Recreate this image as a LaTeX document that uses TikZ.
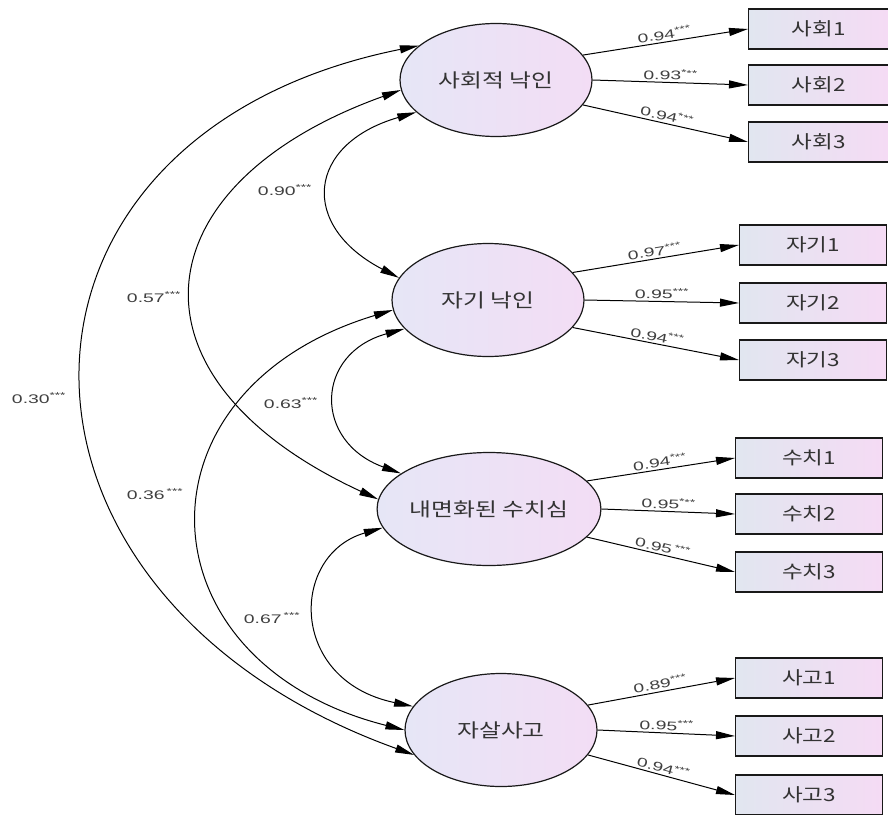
\documentclass[tikz,border=0pt]{standalone}
\usepackage{fontspec}
\setmainfont{Liberation Sans}
\newfontfamily\krfont[FakeStretch=1.25]{Noto Sans CJK KR}
\newfontfamily\numfont[FakeStretch=1.55]{Liberation Sans}
\usetikzlibrary{shapes.geometric,arrows.meta}
\definecolor{latL}{HTML}{E6E6F6}
\definecolor{latR}{HTML}{F3DDF5}
\definecolor{obsL}{HTML}{E1E6F0}
\definecolor{obsR}{HTML}{F5DBF4}
\newcommand{\stars}{\textsuperscript{***}}

\begin{document}
\begin{tikzpicture}[x=1pt,y=-1pt]
\tikzstyle{latent}=[ellipse,draw=black!90,line width=1.2pt,left color=latL,right color=latR,minimum width=192pt,minimum height=113pt,inner sep=0pt,text=black!80,font=\krfont\fontsize{19}{22}\selectfont]
\tikzstyle{obs}=[rectangle,draw=black!90,line width=1.2pt,left color=obsL,right color=obsR,minimum width=147pt,minimum height=40pt,inner sep=0pt,anchor=west,text=black!80,font=\krfont\fontsize{18}{22}\selectfont]
\tikzstyle{load}=[-{Triangle[length=19pt,width=8pt]},line width=1pt,black]
\tikzstyle{cov}=[{Triangle[length=19pt,width=8pt]}-{Triangle[length=19pt,width=8pt]},line width=1pt,black]
\tikzstyle{lab}=[midway,above,sloped,inner sep=2pt,text=black!75,font=\numfont\fontsize{12.5}{13}\selectfont]
\tikzstyle{clab}=[inner sep=0pt,text=black!75,font=\numfont\fontsize{12.5}{13}\selectfont]
\useasboundingbox (0,0) rectangle (888,814);
% latent factors
\node[latent] (sn) at (496,80) {사회적 낙인};
\node[latent] (jn) at (488,300) {자기 낙인};
\node[latent] (ns) at (489,509) {내면화된 수치심};
\node[latent] (ss) at (501,730) {자살사고};
% indicators
\node[obs,minimum width=140pt] (s1) at (748,29) {사회1};
\node[obs,minimum width=140pt] (s2) at (748,85) {사회2};
\node[obs,minimum width=140pt] (s3) at (748,142) {사회3};
\node[obs] (j1) at (739,245) {자기1};
\node[obs] (j2) at (739,303) {자기2};
\node[obs] (j3) at (739,360) {자기3};
\node[obs] (n1) at (735,458) {수치1};
\node[obs] (n2) at (735,514) {수치2};
\node[obs] (n3) at (735,572) {수치3};
\node[obs] (g1) at (735,678) {사고1};
\node[obs] (g2) at (735,736) {사고2};
\node[obs] (g3) at (735,795) {사고3};
% loadings
\draw[load] (sn.16) -- (s1.west) node[lab] {0.94\stars};
\draw[load] (sn.0) -- (s2.west) node[lab] {0.93\stars};
\draw[load] (sn.-16) -- (s3.west) node[lab] {0.94\stars};
\draw[load] (jn.18) -- (j1.west) node[lab] {0.97\stars};
\draw[load] (jn.0) -- (j2.west) node[lab] {0.95\stars};
\draw[load] (jn.-18) -- (j3.west) node[lab] {0.94\stars};
\draw[load] (ns.16) -- (n1.west) node[lab] {0.94\stars};
\draw[load] (ns.0) -- (n2.west) node[lab] {0.95\stars};
\draw[load] (ns.-16) -- (n3.west) node[lab] {0.95\,\stars};
\draw[load] (ss.16) -- (g1.west) node[lab] {0.89\stars};
\draw[load] (ss.0) -- (g2.west) node[lab] {0.95\stars};
\draw[load] (ss.-16) -- (g3.west) node[lab] {0.94\stars};
% correlations
\draw[cov] (sn.202) .. controls +(-110,32) and +(-100,-52) .. (jn.166);
\draw[cov] (jn.199) .. controls +(-90,25) and +(-88,-32) .. (ns.158);
\draw[cov] (ns.190) .. controls +(-93,27) and +(-125,-26) .. (ss.165);
\draw[cov] (sn.186) .. controls +(-262,94) and +(-262,-121) .. (ns.175);
\draw[cov] (jn.186) .. controls +(-266,80) and +(-266,-67) .. (ss.180);
\draw[cov] (sn.156) .. controls +(-444,89) and +(-444,-160) .. (ss.196);
\node[clab] (c90) at (285,190) {0.90\stars};
\node[clab] (c63) at (291,403) {0.63\stars};
\node[clab] (c67) at (272,618) {0.67\,\stars};
\node[clab] (c57) at (154,297) {0.57\stars};
\node[clab] (c36) at (155,494) {0.36\,\stars};
\node[clab] (c30) at (39,398) {0.30\stars};
\end{tikzpicture}
\end{document}
